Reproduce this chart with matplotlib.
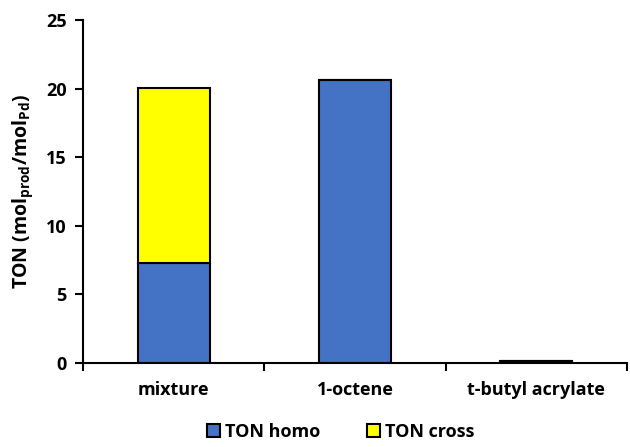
import matplotlib.pyplot as plt
import numpy as np

categories = ["mixture", "1-octene", "t-butyl acrylate"]
ton_homo = [7.3, 20.6, 0.15]
ton_cross = [12.75, 0, 0]

plt.rcParams['font.family'] = ['Open Sans', 'DejaVu Sans']
plt.rcParams['font.weight'] = 'bold'
plt.rcParams['mathtext.fontset'] = 'custom'
plt.rcParams['mathtext.bf'] = 'Open Sans:bold'
plt.rcParams['mathtext.rm'] = 'Open Sans:bold'

fig = plt.figure(figsize=(6.3, 4.47), dpi=100)
ax = fig.add_axes([0.132, 0.188, 0.863, 0.767])

x = np.arange(len(categories))
ax.bar(x, ton_homo, width=0.4, color="#4472C4", edgecolor="black", linewidth=1.5, label="TON homo")
ax.bar(x, ton_cross, width=0.4, bottom=ton_homo, color="#FFFF00", edgecolor="black", linewidth=1.5, label="TON cross")

ax.set_xlim(-0.5, 2.5)
ax.set_ylim(0, 25)
ax.set_yticks([0, 5, 10, 15, 20, 25])
ax.set_xticks(x)
ax.set_xticklabels(categories, fontsize=13, fontweight="bold")
ax.set_xticks([-0.5, 0.5, 1.5, 2.5], minor=True)
ax.tick_params(axis="x", which="major", length=0, pad=13)
ax.tick_params(axis="x", which="minor", length=6, width=1.5, direction="out")
ax.tick_params(axis="y", length=6, width=1.5, labelsize=13, pad=6)
for lab in ax.get_yticklabels():
    lab.set_fontweight("bold")

for side in ["top", "right"]:
    ax.spines[side].set_visible(False)
ax.spines["left"].set_linewidth(1.5)
ax.spines["bottom"].set_linewidth(1.5)

ax.set_ylabel(r"TON (mol$_{\mathbf{prod}}$/mol$_{\mathbf{Pd}}$)", fontsize=14, fontweight="bold", labelpad=8)

fig.legend(loc="lower center", bbox_to_anchor=(0.541, -0.022), ncol=2, frameon=False,
           fontsize=13, handlelength=0.7, handleheight=0.7, handletextpad=0.3, columnspacing=2.6)

plt.savefig("out.png")
